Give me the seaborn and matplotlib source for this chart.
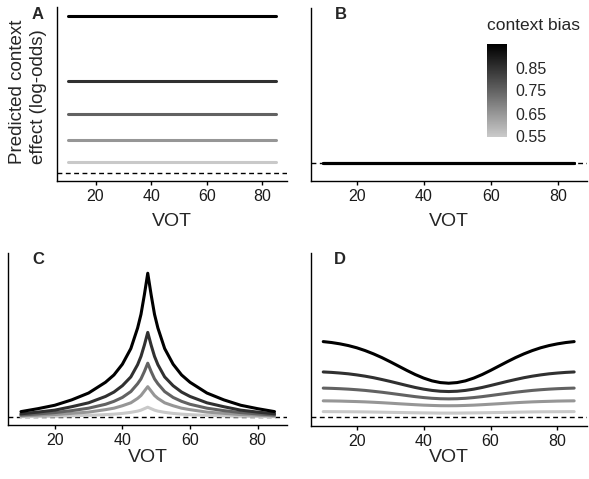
import numpy as np
import pandas as pd
import matplotlib
matplotlib.use("Agg")
import matplotlib.pyplot as plt
from matplotlib.colors import LinearSegmentedColormap, Normalize
import seaborn as sns

sns.set_style("white")
plt.rcParams['font.family'] = ['Liberation Sans', 'DejaVu Sans']

# ---------------- data ----------------
bias_levels = [0.55, 0.65, 0.75, 0.85, 0.95]
legend_ticks = [0.55, 0.65, 0.75, 0.85]
vot_ticks = [20, 40, 60, 80]

# Panel A: constant effect (log-odds of bias)
vot_a = [10, 85]
effect_a = {
    0.55: [0.20, 0.20],
    0.65: [0.62, 0.62],
    0.75: [1.10, 1.10],
    0.85: [1.73, 1.73],
    0.95: [2.94, 2.94],
}

# Panel B: no effect
vot_b = [10, 85]
effect_b = {
    0.55: [0.0, 0.0],
    0.65: [0.0, 0.0],
    0.75: [0.0, 0.0],
    0.85: [0.0, 0.0],
    0.95: [0.0, 0.0],
}

# Panel C: peaked effect at the category boundary
vot_c = [10, 15, 20, 25, 30, 35, 37.5, 40, 42.5, 44.5, 45.5, 46.5, 47.5,
         48.5, 49.5, 50.5, 52.5, 55, 57.5, 60, 65, 70, 75, 80, 85]
effect_c = {
    0.55: [0.007, 0.012, 0.016, 0.024, 0.033, 0.048, 0.058, 0.073, 0.095, 0.12, 0.14, 0.17, 0.20,
           0.17, 0.14, 0.12, 0.095, 0.073, 0.058, 0.048, 0.033, 0.024, 0.016, 0.012, 0.007],
    0.65: [0.023, 0.036, 0.05, 0.074, 0.10, 0.15, 0.18, 0.23, 0.29, 0.38, 0.44, 0.53, 0.62,
           0.53, 0.44, 0.38, 0.29, 0.23, 0.18, 0.15, 0.10, 0.074, 0.05, 0.036, 0.023],
    0.75: [0.041, 0.063, 0.09, 0.13, 0.18, 0.26, 0.32, 0.40, 0.52, 0.68, 0.78, 0.93, 1.10,
           0.93, 0.78, 0.68, 0.52, 0.40, 0.32, 0.26, 0.18, 0.13, 0.09, 0.063, 0.041],
    0.85: [0.065, 0.10, 0.14, 0.21, 0.29, 0.42, 0.51, 0.64, 0.82, 1.07, 1.24, 1.47, 1.73,
           1.47, 1.24, 1.07, 0.82, 0.64, 0.51, 0.42, 0.29, 0.21, 0.14, 0.10, 0.065],
    0.95: [0.11, 0.17, 0.24, 0.35, 0.49, 0.71, 0.86, 1.08, 1.40, 1.82, 2.10, 2.50, 2.94,
           2.50, 2.10, 1.82, 1.40, 1.08, 0.86, 0.71, 0.49, 0.35, 0.24, 0.17, 0.11],
}

# Panel D: effect reduced near the boundary
vot_d = [10, 12.5, 15, 17.5, 20, 22.5, 25, 27.5, 30, 32.5, 35, 37.5, 40, 42.5, 45, 47.5,
         50, 52.5, 55, 57.5, 60, 62.5, 65, 67.5, 70, 72.5, 75, 77.5, 80, 82.5, 85]
effect_d = {
    0.55: [0.12, 0.119, 0.118, 0.117, 0.116, 0.114, 0.111, 0.108, 0.105, 0.102, 0.099, 0.096,
           0.094, 0.092, 0.090, 0.090, 0.090, 0.092, 0.094, 0.096, 0.099, 0.102, 0.105, 0.108,
           0.111, 0.114, 0.116, 0.117, 0.118, 0.119, 0.12],
    0.65: [0.34, 0.338, 0.335, 0.330, 0.325, 0.319, 0.311, 0.302, 0.292, 0.281, 0.271, 0.261,
           0.252, 0.246, 0.241, 0.240, 0.241, 0.246, 0.252, 0.261, 0.271, 0.281, 0.292, 0.302,
           0.311, 0.319, 0.325, 0.330, 0.335, 0.338, 0.34],
    0.75: [0.60, 0.595, 0.588, 0.579, 0.567, 0.553, 0.535, 0.516, 0.494, 0.471, 0.448, 0.426,
           0.407, 0.392, 0.383, 0.380, 0.383, 0.392, 0.407, 0.426, 0.448, 0.471, 0.494, 0.516,
           0.535, 0.553, 0.567, 0.579, 0.588, 0.595, 0.60],
    0.85: [0.93, 0.921, 0.908, 0.892, 0.870, 0.844, 0.813, 0.776, 0.737, 0.695, 0.653, 0.613,
           0.579, 0.553, 0.536, 0.530, 0.536, 0.553, 0.579, 0.613, 0.653, 0.695, 0.737, 0.776,
           0.813, 0.844, 0.870, 0.892, 0.908, 0.921, 0.93],
    0.95: [1.55, 1.531, 1.504, 1.469, 1.424, 1.367, 1.300, 1.224, 1.139, 1.050, 0.961, 0.877,
           0.805, 0.748, 0.713, 0.700, 0.713, 0.748, 0.805, 0.877, 0.961, 1.050, 1.139, 1.224,
           1.300, 1.367, 1.424, 1.469, 1.504, 1.531, 1.55],
}


def to_long(vot, eff):
    rows = []
    for b in bias_levels:
        for v, e in zip(vot, eff[b]):
            rows.append({"VOT": v, "effect": e, "bias": b})
    return pd.DataFrame(rows)


panels = [
    ("A", to_long(vot_a, effect_a)),
    ("B", to_long(vot_b, effect_b)),
    ("C", to_long(vot_c, effect_c)),
    ("D", to_long(vot_d, effect_d)),
]

# ---------------- style ----------------
W, H = 589, 479
cmap = LinearSegmentedColormap.from_list(
    "grey_black", ["#c9c9c9", "#969696", "#626262", "#313131", "#000000"])
norm = Normalize(vmin=0.55, vmax=0.95)

fig = plt.figure(figsize=(W / 100, H / 100), dpi=100)


def px_axes(left, top, right, bottom):
    return fig.add_axes([left / W, 1 - bottom / H, (right - left) / W, (bottom - top) / H])


boxes = {
    "A": (57.3, 6.7, 286.7, 181.0),
    "B": (310.7, 8.0, 587.0, 181.0),
    "C": (8.3, 252.7, 287.2, 425.3),
    "D": (310.7, 253.0, 586.7, 426.0),
}
ylims = {
    "A": (-0.150, 3.12),
    "B": (-0.332, 2.908),
    "C": (-0.170, 3.36),
    "D": (-0.174, 3.36),
}
xlabel_offset = {"A": 40, "B": 40, "C": 32, "D": 31}
letter_pos = {"A": (32, 7), "B": (335, 7), "C": (32, 252), "D": (334, 252)}

for name, df in panels:
    l, t, r, b = boxes[name]
    ax = px_axes(l, t, r, b)
    ax.axhline(0, ls=(0, (3.5, 2.5)), color="black", lw=1.0, zorder=1)
    sns.lineplot(data=df, x="VOT", y="effect", hue="bias", palette=cmap,
                 hue_norm=norm, legend=False, lw=2.2, ax=ax, zorder=2)
    ax.set_xlim(6.25, 88.75)
    ax.set_ylim(*ylims[name])
    ax.set_xticks(vot_ticks)
    ax.set_xticklabels([str(v) for v in vot_ticks])
    ax.set_yticks([])
    ax.set_ylabel("")
    ax.set_xlabel("VOT", fontsize=14)
    hpx = b - t
    ax.xaxis.set_label_coords(0.5, -xlabel_offset[name] / hpx)
    ax.xaxis.label.set_va("center")
    for s in ["top", "right"]:
        ax.spines[s].set_visible(False)
    for s in ["left", "bottom"]:
        ax.spines[s].set_visible(True)
        ax.spines[s].set_color("black")
        ax.spines[s].set_linewidth(1.0)
    ax.tick_params(axis="x", bottom=True, length=3, width=1.0, color="black",
                   labelsize=11.5, pad=2.5, labelcolor="#1a1a1a")
    ax.set_facecolor("white")
    lx, ly = letter_pos[name]
    fig.text(lx / W, 1 - ly / H, name, fontsize=12, fontweight="bold",
             ha="left", va="top")

# y label for panel A (two lines)
fig.text(18 / W, 1 - 92 / H, "Predicted context", rotation=90,
         ha="center", va="center", fontsize=13.5)
fig.text(38.5 / W, 1 - 97 / H, "effect (log-odds)", rotation=90,
         ha="center", va="center", fontsize=13.5)

# colour bar legend
cax = px_axes(487.3, 44.5, 506.7, 136.5)
cb = matplotlib.colorbar.ColorbarBase(cax, cmap=cmap, norm=norm, orientation="vertical")
cb.set_ticks(legend_ticks)
cb.set_ticklabels([f"{v:.2f}" for v in legend_ticks])
cb.outline.set_visible(False)
cax.tick_params(axis="y", left=True, right=True, direction="in", length=4,
                width=0.8, color="white", labelsize=11.5, pad=6)
fig.text(487 / W, 1 - 26 / H, "context bias", fontsize=12.5, ha="left", va="center")

fig.savefig("out.png", dpi=100, facecolor="white")
